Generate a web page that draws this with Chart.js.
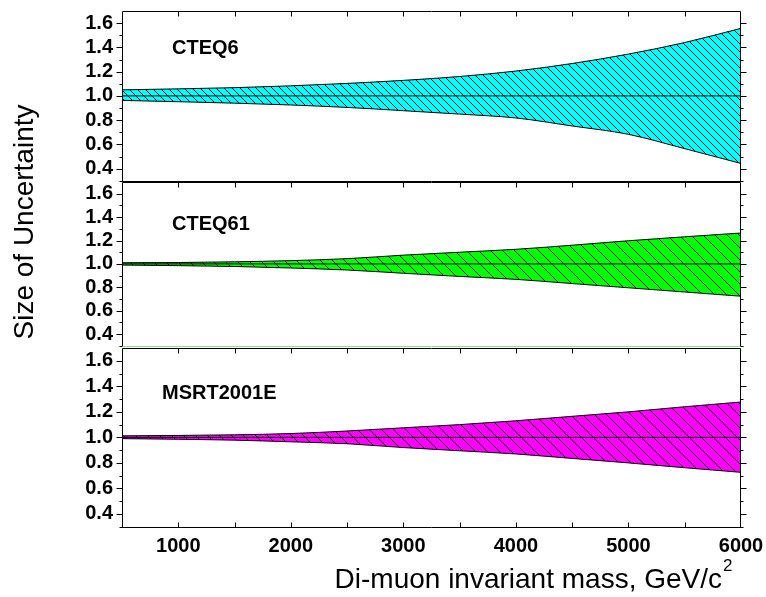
<!DOCTYPE html>
<html>
<head>
<meta charset="utf-8">
<script src="https://cdn.jsdelivr.net/npm/chart.js@4/dist/chart.umd.min.js"></script>
<style>
html,body{margin:0;padding:0;background:#fff}
#wrap{position:relative;width:766px;height:597px;background:#fff}
#wrap canvas{position:absolute;left:0;top:0}
</style>
</head>
<body>
<div id="wrap">
  <canvas id="p1" width="766" height="597"></canvas>
  <canvas id="p2" width="766" height="597"></canvas>
  <canvas id="p3" width="766" height="597"></canvas>
</div>
<script>
// di-muon mass points, GeV/c^2
var mass = [500, 1000, 1500, 2000, 2500, 3000, 3500, 4000, 4500, 5000, 5500, 6000];

var cteq6Up  = [1.050, 1.058, 1.068, 1.083, 1.103, 1.128, 1.160, 1.205, 1.267, 1.345, 1.440, 1.557];
var cteq6Lo  = [0.963, 0.952, 0.940, 0.925, 0.905, 0.878, 0.850, 0.818, 0.752, 0.683, 0.565, 0.443];
var cteq61Up = [1.010, 1.012, 1.018, 1.028, 1.045, 1.075, 1.100, 1.125, 1.160, 1.198, 1.232, 1.264];
var cteq61Lo = [0.990, 0.985, 0.978, 0.965, 0.948, 0.920, 0.893, 0.868, 0.832, 0.796, 0.760, 0.724];
var msrtUp   = [1.012, 1.015, 1.020, 1.030, 1.050, 1.075, 1.100, 1.130, 1.165, 1.200, 1.240, 1.277];
var msrtLo   = [0.990, 0.985, 0.978, 0.965, 0.950, 0.920, 0.895, 0.870, 0.835, 0.800, 0.762, 0.726];
var unity    = [1, 1, 1, 1, 1, 1, 1, 1, 1, 1, 1, 1];

var yTicks = [0.4, 0.6, 0.8, 1.0, 1.2, 1.4, 1.6];
var yMinor = [0.3, 0.5, 0.7, 0.9, 1.1, 1.3, 1.5];
var xTicks = [1000, 2000, 3000, 4000, 5000, 6000];
var xMarks = [1000, 1500, 2000, 2500, 3000, 3500, 4000, 4500, 5000, 5500];

var FONT = 'Arial, "Liberation Sans", sans-serif';

function pts(ys) {
  return mass.map(function(m, i){ return {x:m, y:ys[i]}; });
}

function hatch(col, s) {
  var t = document.createElement('canvas');
  t.width = s; t.height = s;
  var g = t.getContext('2d');
  g.fillStyle = col; g.fillRect(0, 0, s, s);
  g.strokeStyle = '#000'; g.lineWidth = 1;
  g.beginPath();
  for (var k = -1; k <= 1; k++) { g.moveTo(k*s, 0); g.lineTo(k*s + s, s); }
  g.stroke();
  return g.createPattern(t, 'repeat');
}

// frame, tick marks, panel name and axis titles
var frame = {
  id:'frame',
  afterDatasetsDraw: function(ch) {
    var o = ch.options.plugins.frame;
    var g = ch.ctx, a = ch.chartArea, xs = ch.scales.x, ys = ch.scales.y;
    var L = Math.round(a.left) + 0.5, R = Math.round(a.right) - 0.5;
    var T = Math.round(a.top) + 0.5, B = Math.round(a.bottom) - 0.5;
    g.save();
    g.lineWidth = 1;
    g.strokeStyle = '#000';
    g.beginPath();
    g.moveTo(L, T); g.lineTo(R, T);
    g.moveTo(L, T); g.lineTo(L, B + 0.5);
    g.moveTo(R, T); g.lineTo(R, B + 0.5);
    yTicks.forEach(function(v){
      var y = Math.round(ys.getPixelForValue(v)) + 0.5;
      g.moveTo(L, y); g.lineTo(L - 6, y);
      g.moveTo(R, y); g.lineTo(R + 6, y);
    });
    yMinor.forEach(function(v){
      var y = Math.round(ys.getPixelForValue(v)) + 0.5;
      g.moveTo(L, y); g.lineTo(L - 3, y);
      g.moveTo(R, y); g.lineTo(R + 3, y);
    });
    xMarks.forEach(function(v){
      var x = Math.round(xs.getPixelForValue(v)) + 0.5;
      g.moveTo(x, T); g.lineTo(x, T + 5);
      if (o.last) { g.moveTo(x, B); g.lineTo(x, B - 5); }
    });
    g.stroke();
    if (o.bottom) {
      g.strokeStyle = o.bottom;
      g.beginPath(); g.moveTo(L, B); g.lineTo(R, B); g.stroke();
    }
    g.fillStyle = '#000';
    g.font = 'bold 20px ' + FONT;
    g.textAlign = 'left'; g.textBaseline = 'alphabetic';
    g.fillText(o.name, o.nameX, o.nameY);
    if (o.last) {
      g.font = '28px ' + FONT;
      g.textAlign = 'right';
      g.fillText('Di-muon invariant mass, GeV/c', 722, 588);
      g.font = '17px ' + FONT;
      g.textAlign = 'left';
      g.fillText('2', 723, 571);
      g.save();
      g.translate(33, 222);
      g.rotate(-Math.PI/2);
      g.font = '28px ' + FONT;
      g.textAlign = 'center';
      g.fillText('Size of Uncertainty', 0, 0);
      g.restore();
    }
    g.restore();
  }
};

function panel(id, up, lo, pat, top, bottom, name, nameX, nameY, last, bottomCol) {
  var xAxisH = 40;
  return new Chart(document.getElementById(id), {
    type:'line',
    data:{datasets:[
      {data:pts(unity), borderColor:'#000', borderWidth:1, pointRadius:0, fill:false, tension:0, order:0},
      {data:pts(up), borderColor:'#000', borderWidth:1, pointRadius:0, fill:'+1', backgroundColor:pat, cubicInterpolationMode:'monotone', order:1},
      {data:pts(lo), borderColor:'#000', borderWidth:1, pointRadius:0, fill:false, cubicInterpolationMode:'monotone', order:2}
    ]},
    options:{
      responsive:false, animation:false, events:[],
      layout:{padding:{left:0, right:25, top:top, bottom: last ? 597 - bottom - xAxisH : 597 - bottom}},
      plugins:{
        legend:{display:false}, tooltip:{enabled:false},
        filler:{drawTime:'beforeDatasetsDraw'},
        frame:{name:name, nameX:nameX, nameY:nameY, last:last, bottom:bottomCol}
      },
      scales:{
        x:{type:'linear', min:500, max:6000, display:last,
           grid:{display:false, drawTicks:false}, border:{display:false},
           afterBuildTicks:function(s){ s.ticks = xTicks.map(function(v){ return {value:v}; }); },
           afterFit:function(s){ s.height = last ? xAxisH : 0; s.paddingLeft = 0; s.paddingRight = 0; },
           ticks:{autoSkip:false, maxRotation:0, padding:6, color:'#000', font:{family:FONT, size:20, weight:'bold'},
                  callback:function(v){ return String(v); }}},
        y:{type:'linear', min:0.29, max:1.7,
           grid:{display:false, drawTicks:false}, border:{display:false},
           afterBuildTicks:function(s){ s.ticks = yTicks.map(function(v){ return {value:v}; }); },
           afterFit:function(s){ s.width = 122; s.paddingTop = 0; s.paddingBottom = 0; },
           ticks:{autoSkip:false, padding:9, color:'#000', font:{family:FONT, size:20, weight:'bold'},
                  callback:function(v){ return Number(v).toFixed(1); }}}
      }
    },
    plugins:[frame]
  });
}

panel('p1', cteq6Up,  cteq6Lo,  hatch('#00ffff', 8),  11,  182, 'CTEQ6',     172, 54,  false, '#000');
panel('p2', cteq61Up, cteq61Lo, hatch('#00ff00', 12), 182, 347, 'CTEQ61',    172, 230, false, '#90e090');
panel('p3', msrtUp,   msrtLo,   hatch('#ff00ff', 12), 348, 528, 'MSRT2001E', 162, 399, true,  '#000');
</script>
</body>
</html>
